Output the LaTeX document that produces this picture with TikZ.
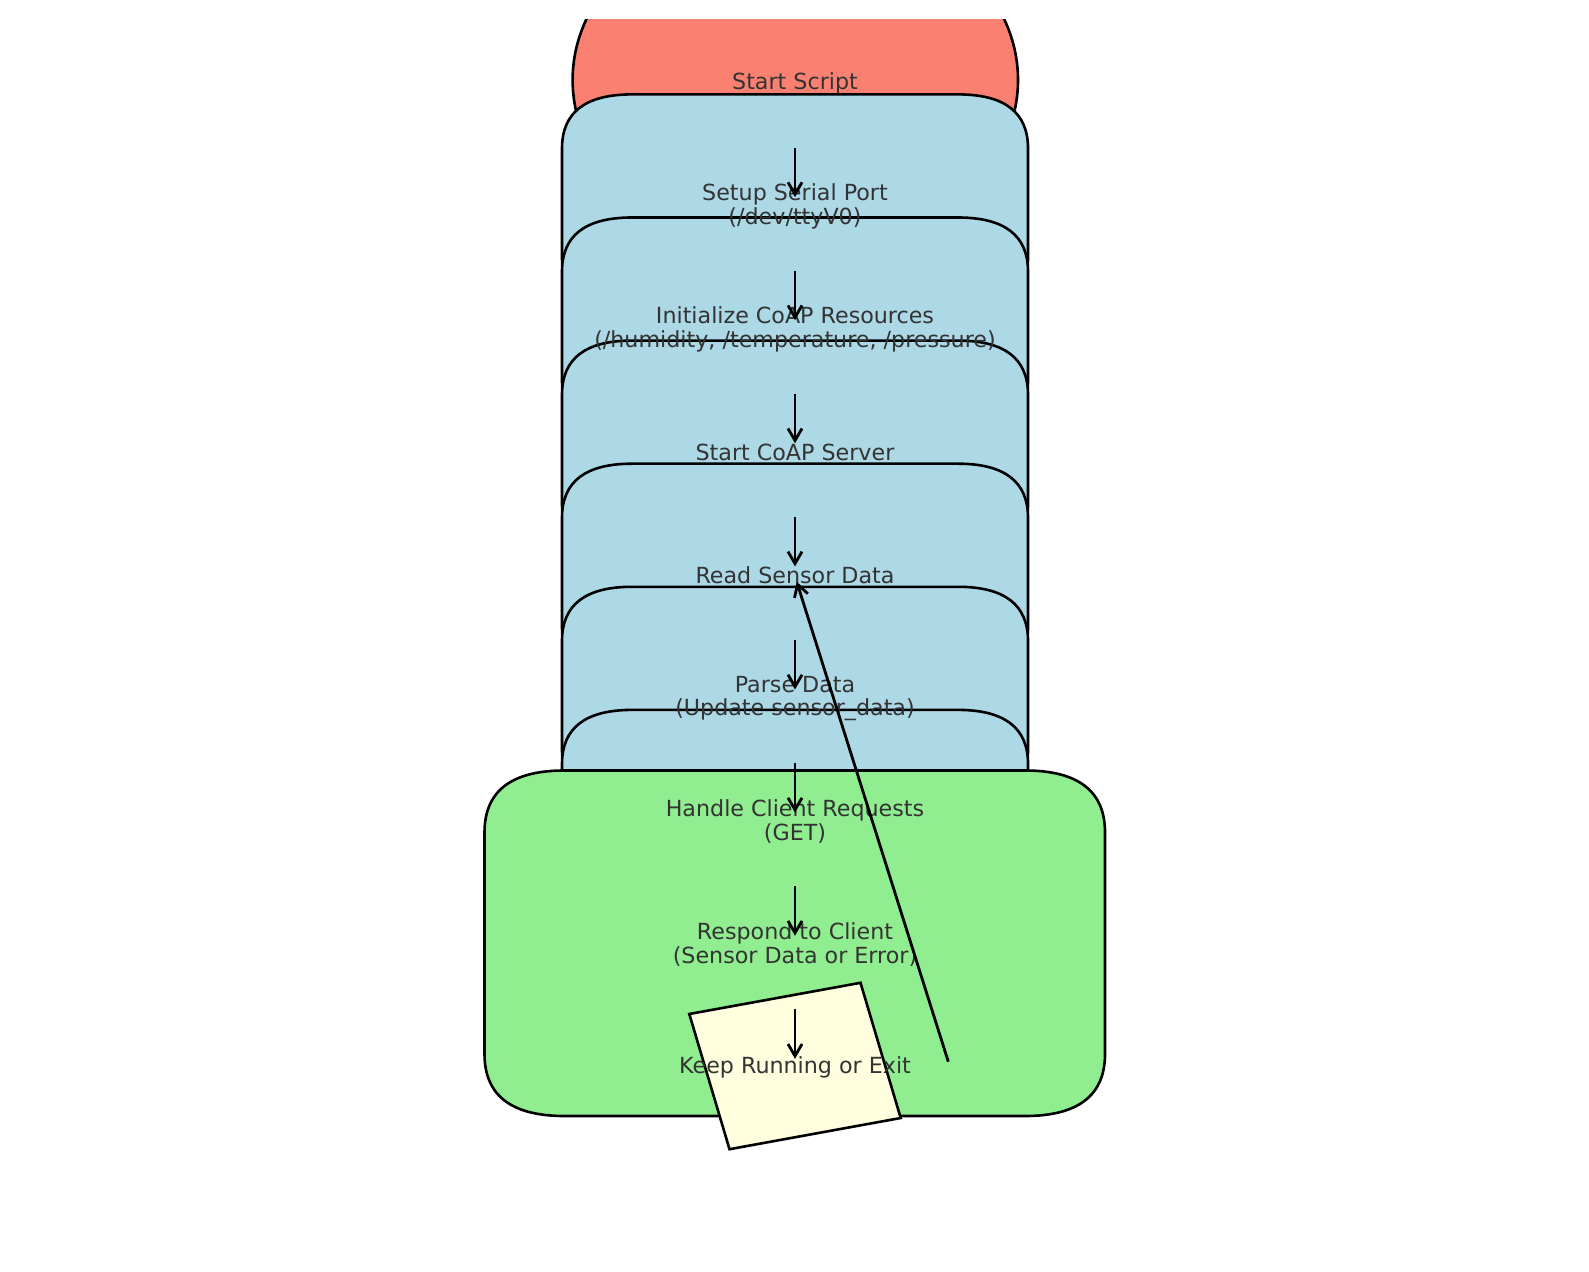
\documentclass[tikz,border=0pt]{standalone}
\usepackage{fontspec}
\setmainfont{DejaVu Sans}
\usetikzlibrary{arrows.meta,calc}
\definecolor{salmonc}{HTML}{FA8072}
\definecolor{lblue}{HTML}{ADD8E6}
\definecolor{lgreen}{HTML}{90EE90}
\definecolor{lyellow}{HTML}{FFFFE0}
\definecolor{txtc}{HTML}{333333}
% rounded box with quadratic-like corners: style, x0, ytop, x1, ybottom, rx, ry
\newcommand\qrbox[7]{%
  \path[#1] ({#2+#6},#3) -- ({#4-#6},#3)
    .. controls ({#4-#6/3},#3) and (#4,{#3+#7/3}) .. (#4,{#3+#7})
    -- (#4,{#5-#7})
    .. controls (#4,{#5-#7/3}) and ({#4-#6/3},#5) .. ({#4-#6},#5)
    -- ({#2+#6},#5)
    .. controls ({#2+#6/3},#5) and (#2,{#5-#7/3}) .. (#2,{#5-#7})
    -- (#2,{#3+#7})
    .. controls (#2,{#3+#7/3}) and ({#2+#6/3},#3) .. ({#2+#6},#3) -- cycle;}
\begin{document}
\begin{tikzpicture}[x=0.5pt,y=-0.5pt,
  shapeline/.style={draw=black,line width=1.3pt},
  lbl/.style={text=txtc,font=\fontsize{11.1pt}{11.8pt}\selectfont,align=center,inner sep=0pt},
  flow/.style={draw=black,line width=1.4pt,-{Straight Barb[length=6pt,width=7pt]}}]
\useasboundingbox (0,0) rectangle (1589,1272);
% start ellipse (clipped at the top)
\begin{scope}
  \clip (0,20) rectangle (1589,1272);
  \path[shapeline,fill=salmonc] (795.3,80) ellipse [x radius=222.7, y radius=175];
\end{scope}
% blue process boxes
\foreach \i in {1,...,6}{
  \pgfmathsetmacro\yt{80+123.1*\i-108.7}
  \pgfmathsetmacro\yb{80+123.1*\i+108.7}
  \qrbox{shapeline,fill=lblue}{562}{\yt}{1028}{\yb}{70}{54}
}
% green box
\qrbox{shapeline,fill=lgreen}{484.5}{770.5}{1105}{1116}{80}{62}
% yellow tilted square
\path[shapeline,fill=lyellow] (689.3,1014) -- (860.5,982.8) -- (900.7,1118) -- (729.5,1149.2) -- cycle;
% labels
\node[lbl] (n0) at (795,83) {Start Script};
\node[lbl] (n1) at (795,206.1) {Setup Serial Port\\(/dev/ttyV0)};
\node[lbl] (n2) at (795,329.2) {Initialize CoAP Resources\\(/humidity, /temperature, /pressure)};
\node[lbl] (n3) at (795,452.3) {Start CoAP Server};
\node[lbl] (n4) at (795,575.4) {Read Sensor Data};
\node[lbl] (n5) at (795,698.5) {Parse Data\\(Update sensor\_data)};
\node[lbl] (n6) at (795,821.6) {Handle Client Requests\\(GET)};
\node[lbl] (n7) at (795,944.7) {Respond to Client\\(Sensor Data or Error)};
\node[lbl] (n8) at (795,1067.8) {Keep Running or Exit};
% connectors
\foreach \a/\b in {n0/n1,n1/n2,n2/n3,n3/n4,n4/n5,n5/n6,n6/n7,n7/n8}{
  \draw[flow] ($(\a)+(0,64.7)$) -- ($(\b)+(0,-9)$);
}
\draw[flow] ($(n8)+(153.3,-6.1)$) -- ($(n4)+(1.7,6.3)$);
\end{tikzpicture}
\end{document}
